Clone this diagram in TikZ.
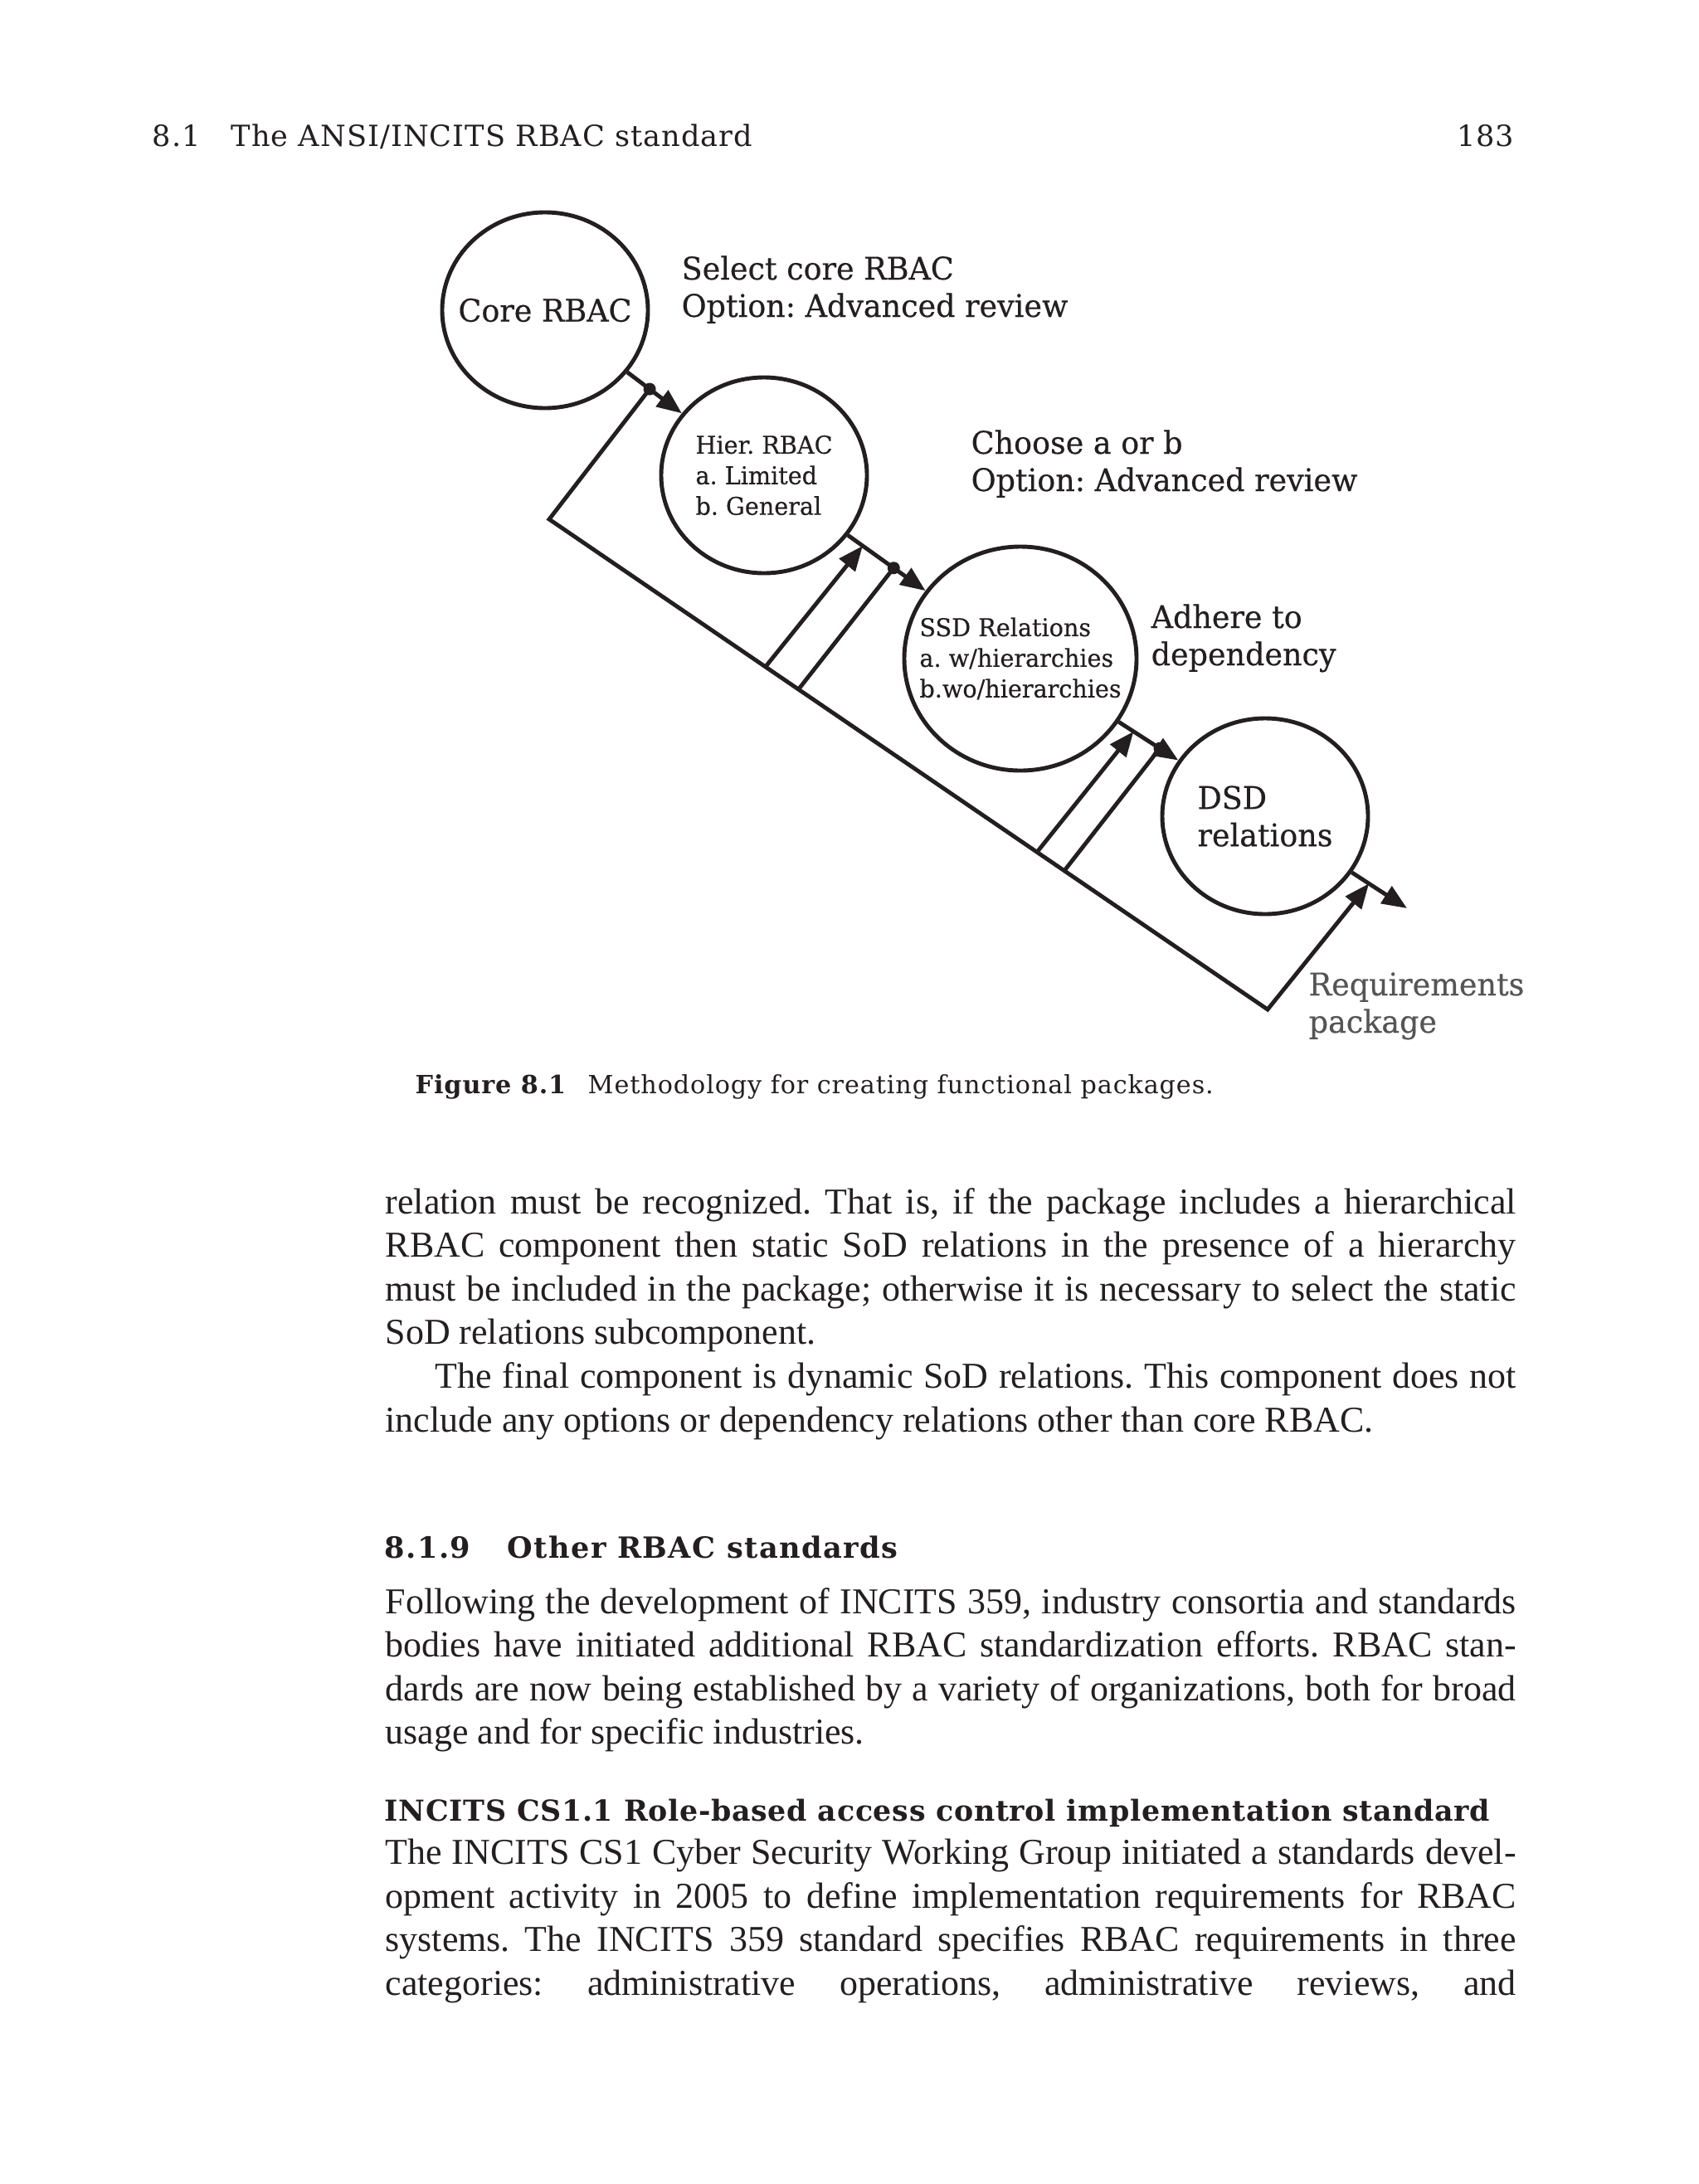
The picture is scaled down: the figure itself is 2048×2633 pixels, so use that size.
\documentclass[tikz,border=0pt]{standalone}
\usepackage{fontspec}
\usetikzlibrary{arrows.meta,calc,shapes.geometric}

\setmainfont{Liberation Serif}
\newfontfamily\slab[FakeStretch=0.97,FakeBold=0.4]{DejaVu Serif}
\newfontfamily\slabwide[LetterSpace=3]{DejaVu Serif}
\newfontfamily\headfont[LetterSpace=4]{DejaVu Serif}
\newfontfamily\subheadfont[LetterSpace=2]{DejaVu Serif}
\frenchspacing

\definecolor{ink}{RGB}{35,31,32}
\definecolor{reqgray}{RGB}{85,85,85}

% one justified line of the body text
\newcommand{\jline}[1]{\makebox[136.3mm][s]{#1}}

\begin{document}
\begin{tikzpicture}[x=0.1mm,y=-0.1mm,
    comp/.style={ellipse,draw=ink,line width=1.4pt,inner sep=0pt,
        minimum width=24.8mm,minimum height=23.6mm},
    comptext/.style={inner sep=0pt,align=left,text=ink,
        font=\slab\fontsize{10.7}{12.8}\selectfont},
    smalltext/.style={font=\slab\fontsize{8.4}{10.5}\selectfont},
    lbl/.style={anchor=base west,inner sep=0pt,align=left,text=ink,
        font=\slab\fontsize{10.7}{12.8}\selectfont},
    conn/.style={draw=ink,line width=1.4pt},
    arr/.style={-{Triangle[length=3mm,width=2.4mm]}},
    capline/.style={anchor=base west,inner sep=0pt,text=ink,
        font=\slabwide\fontsize{8.6}{10}\selectfont},
    headline/.style={anchor=base west,inner sep=0pt,text=ink,
        font=\headfont\bfseries\fontsize{10}{12}\selectfont},
    bodyline/.style={anchor=base west,inner sep=0pt,text=ink,
        font=\fontsize{12.5}{15}\selectfont}]

\fill[white] (0,0) rectangle (2048,2633);
\useasboundingbox (0,0) rectangle (2048,2633);

% running head
\node[capline,font=\slabwide\fontsize{10}{12}\selectfont] (secnum) at (183,176) {8.1};
\node[capline,font=\slabwide\fontsize{10}{12}\selectfont] (runhead) at (278,176) {The ANSI/INCITS RBAC standard};
\node[capline,anchor=base east,font=\slabwide\fontsize{10}{12}\selectfont] (pageno) at (1826,176) {183};

% the four components
\node[comp] (core) at (657,374) {};
\node[comp] (hier) at (921,573) {};
\node[comp,minimum width=28mm,minimum height=27mm] (ssd) at (1230,794) {};
\node[comp] (dsd) at (1525,984) {};

\node[comptext] (coretext) at (core) {Core RBAC};
\node[comptext,smalltext] (hiertext) at (hier) {Hier. RBAC\\a. Limited\\b. General};
\node[comptext,smalltext] (ssdtext) at (ssd) {SSD Relations\\a. w/hierarchies\\b.wo/hierarchies};
\node[comptext] (dsdtext) at (dsd) {DSD\\relations};

% side notes (base = last line)
\node[lbl] (selcore) at (821,382) {Select core RBAC\\Option: Advanced review};
\node[lbl] (choose) at (1170,592) {Choose a or b\\Option: Advanced review};
\node[lbl] (adhere) at (1387,802) {Adhere to\\dependency};
\node[lbl,text=reqgray] (reqpkg) at (1577,1245) {Requirements\\package};

% forward path
\coordinate (out) at (1696,1095);
\draw[conn,arr] (core) -- coordinate[pos=0.41] (d1) (hier);
\draw[conn,arr] (hier) -- coordinate[pos=0.19] (r2) coordinate[pos=0.59] (d2) (ssd);
\draw[conn,arr] (ssd) -- coordinate[pos=0.25] (r3) coordinate[pos=0.69] (d3) (dsd);
\draw[conn,arr] (dsd) -- coordinate[pos=0.31] (r4) (out);

% return path
\coordinate (corner) at (662,626);
\coordinate (bottom) at (1528,1217);
\coordinate (f1) at ($(corner)!0.301!(bottom)$);
\coordinate (f2) at ($(corner)!0.347!(bottom)$);
\coordinate (f3) at ($(corner)!0.679!(bottom)$);
\coordinate (f4) at ($(corner)!0.717!(bottom)$);
\draw[conn,arr,line join=miter] (d1) -- (corner) -- (bottom) -- (r4);
\draw[conn,arr] (f1) -- (r2);
\draw[conn] (f2) -- (d2);
\draw[conn,arr] (f3) -- (r3);
\draw[conn] (f4) -- (d3);
\foreach \d in {d1,d2,d3}
    \fill[ink] (\d) circle[radius=0.75mm];

% caption
\node[capline,font=\slabwide\bfseries\fontsize{8.6}{10}\selectfont] (figno) at (500,1318) {Figure 8.1};
\node[capline] (captext) at (708,1318) {Methodology for creating functional packages.};

% body text
\node[bodyline] (b1) at (464,1463) {\jline{relation must be recognized. That is, if the package includes a hierarchical}};
\node[bodyline] (b2) at (464,1515.6) {\jline{RBAC component then static SoD relations in the presence of a hierarchy}};
\node[bodyline] (b3) at (464,1568.2) {\jline{must be included in the package; otherwise it is necessary to select the static}};
\node[bodyline] (b4) at (464,1620.8) {SoD relations subcomponent.};
\node[bodyline] (b5) at (524,1673.4) {\makebox[130.3mm][s]{The final component is dynamic SoD relations. This component does not}};
\node[bodyline] (b6) at (464,1726) {include any options or dependency relations other than core RBAC.};

\node[headline] (secno) at (463,1878) {8.1.9};
\node[headline] (sectitle) at (611,1878) {Other RBAC standards};

\node[bodyline] (b7) at (464,1945) {\jline{Following the development of INCITS 359, industry consortia and standards}};
\node[bodyline] (b8) at (464,1997.6) {\jline{bodies have initiated additional RBAC standardization efforts. RBAC stan-}};
\node[bodyline] (b9) at (464,2050.2) {\jline{dards are now being established by a variety of organizations, both for broad}};
\node[bodyline] (b10) at (464,2102.8) {usage and for specific industries.};

\node[headline,font=\subheadfont\bfseries\fontsize{9.9}{12}\selectfont] (subhead) at (463,2195)
    {INCITS CS1.1 Role-based access control implementation standard};

\node[bodyline] (b11) at (464,2247.6) {\jline{The INCITS CS1 Cyber Security Working Group initiated a standards devel-}};
\node[bodyline] (b12) at (464,2300.2) {\jline{opment activity in 2005 to define implementation requirements for RBAC}};
\node[bodyline] (b13) at (464,2352.8) {\jline{systems. The INCITS 359 standard specifies RBAC requirements in three}};
\node[bodyline] (b14) at (464,2405.4) {\jline{categories: administrative operations, administrative reviews, and}};

\end{tikzpicture}
\end{document}
